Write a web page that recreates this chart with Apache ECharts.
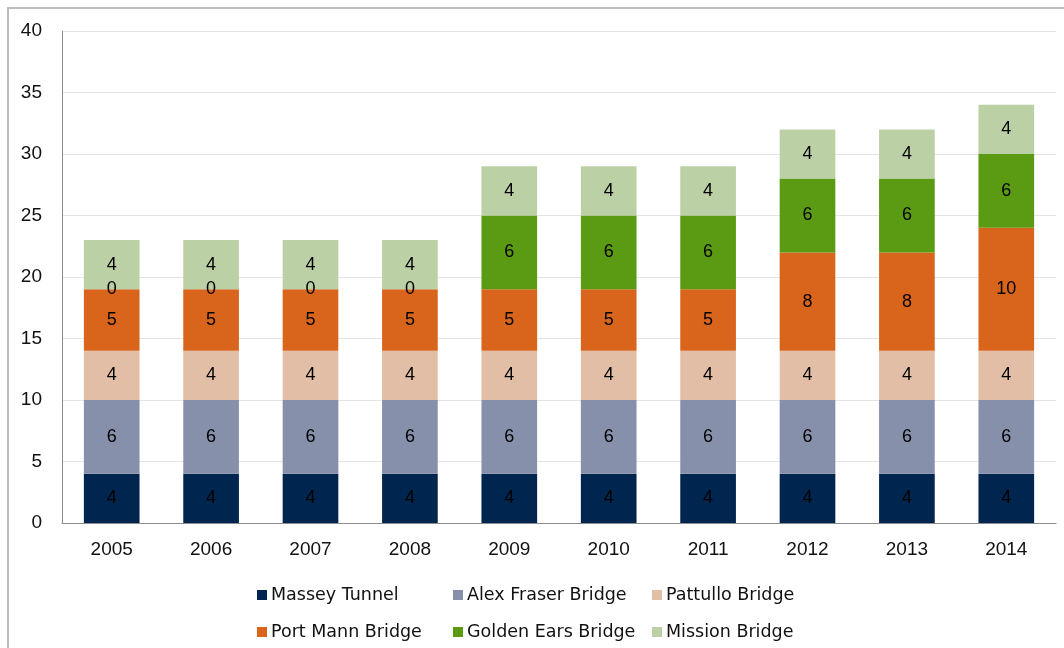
<!DOCTYPE html>
<html>
<head>
<meta charset="utf-8">
<script src="https://cdn.jsdelivr.net/npm/echarts@6/dist/echarts.min.js"></script>
<style>
  html, body { margin: 0; padding: 0; background: #fff; }
  #chart { width: 1064px; height: 648px; }
</style>
</head>
<body>
<div id="chart"></div>
<script>
// data
const years = ['2005', '2006', '2007', '2008', '2009', '2010', '2011', '2012', '2013', '2014'];
const massey = [4, 4, 4, 4, 4, 4, 4, 4, 4, 4];
const alexFraser = [6, 6, 6, 6, 6, 6, 6, 6, 6, 6];
const pattullo = [4, 4, 4, 4, 4, 4, 4, 4, 4, 4];
const portMann = [5, 5, 5, 5, 5, 5, 5, 8, 8, 10];
const goldenEars = [0, 0, 0, 0, 6, 6, 6, 6, 6, 6];
const mission = [4, 4, 4, 4, 4, 4, 4, 4, 4, 4];

const axisFont = '"Liberation Sans", Arial, sans-serif';
const legendFont = '"DejaVu Sans", Verdana, sans-serif';

const seriesList = [
  { name: 'Massey Tunnel', data: massey, color: '#00264f' },
  { name: 'Alex Fraser Bridge', data: alexFraser, color: '#8790ab' },
  { name: 'Pattullo Bridge', data: pattullo, color: '#e2bea6' },
  { name: 'Port Mann Bridge', data: portMann, color: '#d9651d' },
  { name: 'Golden Ears Bridge', data: goldenEars, color: '#5b9a13' },
  { name: 'Mission Bridge', data: mission, color: '#bcd0a5' }
];

// where each legend entry sits (two rows of three)
const legendPos = [
  [257, 586], [453, 586], [652, 586],
  [257, 623], [453, 623], [652, 623]
];

const chart = echarts.init(document.getElementById('chart'));

const option = {
  animation: false,
  graphic: [{
    type: 'rect',
    shape: { x: 8, y: 8, width: 1100, height: 700 },
    style: { fill: 'none', stroke: '#bdbdbd', lineWidth: 2 },
    silent: true
  }],
  legend: seriesList.map((s, i) => ({
    data: [s.name],
    left: legendPos[i][0],
    top: legendPos[i][1],
    padding: 0,
    icon: 'rect',
    itemWidth: 10,
    itemHeight: 10,
    textStyle: { fontFamily: legendFont, fontSize: 17.5, color: '#111', padding: [0, 0, 0, -1] }
  })),
  grid: { left: 62, top: 31, right: 8, bottom: 125, containLabel: false },
  xAxis: {
    type: 'category',
    data: years,
    axisLine: { lineStyle: { color: '#8c8c8c' } },
    axisTick: { show: false },
    axisLabel: { color: '#111', fontFamily: axisFont, fontSize: 19, margin: 17 }
  },
  yAxis: {
    type: 'value',
    min: 0,
    max: 40,
    interval: 5,
    axisLine: { show: true, lineStyle: { color: '#8c8c8c' } },
    axisTick: { show: false },
    splitLine: { lineStyle: { color: '#e4e4e4' } },
    axisLabel: { color: '#111', fontFamily: axisFont, fontSize: 19, margin: 20 }
  },
  series: seriesList.map(s => ({
    name: s.name,
    type: 'bar',
    stack: 'total',
    barWidth: '56%',
    data: s.data,
    itemStyle: { color: s.color },
    label: {
      show: true,
      position: 'inside',
      color: '#000',
      fontFamily: axisFont,
      fontSize: 18
    }
  }))
};

chart.setOption(option);
</script>
</body>
</html>
